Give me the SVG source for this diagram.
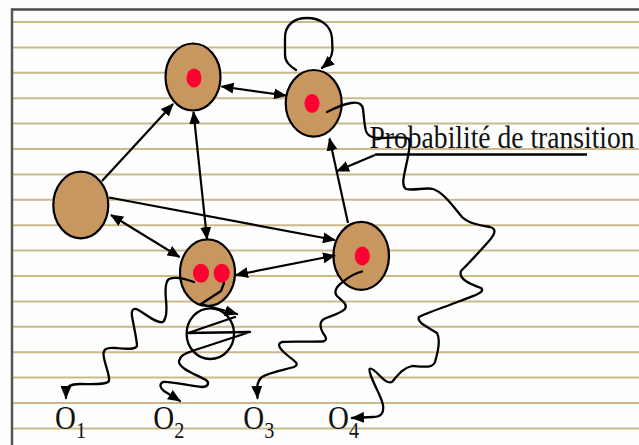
<svg xmlns="http://www.w3.org/2000/svg" width="639" height="445" viewBox="0 0 639 445">
  <style>
    .rule { stroke: #cbb98a; stroke-width: 2; }
    .node { fill: #c8965f; stroke: #000; stroke-width: 2.2; }
    .dot { fill: #ff0033; stroke: none; }
    .edge { fill: none; stroke: #000; stroke-width: 2.2; }
    .wave { fill: none; stroke: #000; stroke-width: 2.3; stroke-linejoin: round; stroke-linecap: round; }
    .lbl { font-family: "Liberation Serif", "Times New Roman", serif; fill: #111; }
    .obs { font-size: 33px; }
    .sub { font-size: 23px; }
  </style>
  <defs>
    <marker id="ah" viewBox="0 0 13 11" refX="12" refY="5.5" markerWidth="13" markerHeight="11" markerUnits="userSpaceOnUse" orient="auto-start-reverse">
      <path d="M0,0 L13,5.5 L0,11 z" fill="#000"/>
    </marker>
  </defs>

  <!-- paper -->
  <rect x="0" y="0" width="639" height="445" fill="#fefefe"/>
  <g id="rules">
    <line class="rule" x1="13" y1="22" x2="639" y2="22"/>
    <line class="rule" x1="13" y1="47.4" x2="639" y2="47.4"/>
    <line class="rule" x1="13" y1="72.8" x2="639" y2="72.8"/>
    <line class="rule" x1="13" y1="98.2" x2="639" y2="98.2"/>
    <line class="rule" x1="13" y1="123.6" x2="639" y2="123.6"/>
    <line class="rule" x1="13" y1="149" x2="639" y2="149"/>
    <line class="rule" x1="13" y1="174.4" x2="639" y2="174.4"/>
    <line class="rule" x1="13" y1="199.8" x2="639" y2="199.8"/>
    <line class="rule" x1="13" y1="225.2" x2="639" y2="225.2"/>
    <line class="rule" x1="13" y1="250.6" x2="639" y2="250.6"/>
    <line class="rule" x1="13" y1="276" x2="639" y2="276"/>
    <line class="rule" x1="13" y1="301.4" x2="639" y2="301.4"/>
    <line class="rule" x1="13" y1="326.8" x2="639" y2="326.8"/>
    <line class="rule" x1="13" y1="352.2" x2="639" y2="352.2"/>
    <line class="rule" x1="13" y1="377.6" x2="639" y2="377.6"/>
    <line class="rule" x1="13" y1="403" x2="639" y2="403"/>
    <line class="rule" x1="13" y1="428.6" x2="639" y2="428.6"/>
  </g>
  <!-- frame -->
  <line x1="11" y1="9.5" x2="639" y2="9.5" stroke="#4a4a4a" stroke-width="2.5"/>
  <line x1="12" y1="8.5" x2="12" y2="445" stroke="#555" stroke-width="2.5"/>

  <!-- states -->
  <g id="state-top">
    <ellipse class="node" cx="193" cy="77" rx="27.5" ry="33.5"/>
    <ellipse class="dot" cx="194" cy="78" rx="7.5" ry="9.5"/>
  </g>
  <g id="state-top-right">
    <ellipse class="node" cx="313.7" cy="103.3" rx="28" ry="33.3"/>
    <ellipse class="dot" cx="312" cy="103.5" rx="7.5" ry="9.5"/>
  </g>
  <g id="state-left">
    <ellipse class="node" cx="80.8" cy="205" rx="27.5" ry="33.3"/>
  </g>
  <g id="state-bottom">
    <ellipse class="node" cx="207.5" cy="272.7" rx="27.5" ry="33.3"/>
    <ellipse class="dot" cx="201" cy="273.3" rx="8" ry="9.5"/>
    <ellipse class="dot" cx="221.7" cy="273.3" rx="8" ry="9.5"/>
  </g>
  <g id="state-right">
    <ellipse class="node" cx="361.2" cy="255.8" rx="27.8" ry="34"/>
    <ellipse class="dot" cx="362.3" cy="256" rx="7.5" ry="9.5"/>
  </g>

  <!-- label: tall, narrow serif lettering -->
  <g id="label-transition">
    <text class="lbl" transform="translate(369.5 148) scale(1 1.18)" x="0" y="0" font-size="27.6">Probabilité de transition</text>
    <line x1="375" y1="154.5" x2="587" y2="154.5" stroke="#000" stroke-width="2.5"/>
  </g>

  <!-- observations -->
  <g id="obs-1">
    <text class="lbl obs" x="55" y="429" textLength="31" lengthAdjust="spacingAndGlyphs">O<tspan class="sub" dy="9">1</tspan></text>
  </g>
  <g id="obs-2">
    <text class="lbl obs" x="153.3" y="429" textLength="31" lengthAdjust="spacingAndGlyphs">O<tspan class="sub" dy="9">2</tspan></text>
  </g>
  <g id="obs-3">
    <text class="lbl obs" x="243.3" y="429" textLength="31" lengthAdjust="spacingAndGlyphs">O<tspan class="sub" dy="9">3</tspan></text>
  </g>
  <g id="obs-4">
    <text class="lbl obs" x="328" y="429" textLength="31" lengthAdjust="spacingAndGlyphs">O<tspan class="sub" dy="9">4</tspan></text>
  </g>

  <!-- transitions and emissions -->
  <g id="connectors">
    <line class="edge" x1="102" y1="181" x2="173" y2="104" marker-end="url(#ah)"/>
    <line class="edge" x1="221.5" y1="86.5" x2="286" y2="95.5" marker-start="url(#ah)" marker-end="url(#ah)"/>
    <line class="edge" x1="193.5" y1="112" x2="207" y2="239" marker-start="url(#ah)" marker-end="url(#ah)"/>
    <line class="edge" x1="109" y1="197.5" x2="335" y2="240" marker-end="url(#ah)"/>
    <line class="edge" x1="111" y1="215" x2="179.5" y2="257" marker-start="url(#ah)" marker-end="url(#ah)"/>
    <line class="edge" x1="236" y1="275" x2="335" y2="255.5" marker-start="url(#ah)" marker-end="url(#ah)"/>
    <line class="edge" x1="348" y1="223" x2="329.5" y2="138.5" marker-end="url(#ah)"/>
    <line class="edge" x1="375" y1="155" x2="337" y2="171" marker-end="url(#ah)"/>

    <!-- self loop on the top-right state -->
    <path class="wave" d="M296,70 C290,66 285,62 285,55 L285,38 C285,24 295,18 307,18 C320,18 331,25 332,38 L332.5,50 C332,58 328,63 322,68" marker-end="url(#ah)"/>

    <!-- self loop on the bottom state -->
    <ellipse class="wave" cx="210.3" cy="333.7" rx="23.7" ry="25.3"/>
    <path class="wave" d="M224,283 L221,291 L201,304 L237,314" marker-end="url(#ah)"/>

    <!-- emission to O1 -->
    <path class="wave" d="M194,282 C186,279 176,276 169,279 C165,282 165,290 166,300 C167,310 167,318 163,322 C158,324 148,316 140,311 C134,307 131,309 132,316 C134,328 137,340 137,346 C135,350 126,349 116,348 C106,347 102,349 104,358 C106,368 110,376 109,381 C106,385 95,384 80,384 C70,384 66,387 66,392 L66,398" marker-end="url(#ah)"/>

    <!-- emission to O2 -->
    <path class="wave" d="M235,317 L188,333 L250,332 L192,351 C184,354 180,356 179,361 C178,368 195,374 206,380 C210,383 208,387 202,387 C190,386 170,381 163,382 C159,384 160,388 164,391 L180,401" marker-end="url(#ah)"/>

    <!-- emission to O3 -->
    <path class="wave" d="M362,271.5 C356,273 350,276 344,281 C337,286 333,291 337,296 C342,301 348,304 345,309 C340,314 330,316 324,319 C319,322 320,328 323,333 C326,337 328,340 323,341.5 C310,342 290,341 282,342 C276,344 280,349 287,355 C293,360 301,364 294,367 C284,370 270,372 262,377 C256,382 257,390 257.5,398" marker-end="url(#ah)"/>

    <!-- emission to O4 -->
    <path class="wave" d="M327,112 C335,108 343,104 351,103 C358,102 362,103 363,109 C364,116 364,124 366,131 C368,137 374,138 382,138 C392,138 404,136 409,139 C411,146 408,156 406,166 C404,176 401,185 406,189 C414,191 425,187 433,189 C444,193 452,205 462,217 C468,223 478,225 490,227 C497,229 495,234 489,241 C481,250 470,262 461,271 C458,279 470,284 481,288 C486,292 474,296 460,301 C445,307 426,313 419,317 C416,323 430,328 437,333 C441,340 438,352 435,362 C433,368 425,367 412,366 C403,368 398,375 392,382 C387,384 382,378 376,372 C369,366 368,368 371,376 C375,387 381,396 383,405 C384,412 382,417 373,417 L352,418" marker-end="url(#ah)"/>
  </g>
</svg>
